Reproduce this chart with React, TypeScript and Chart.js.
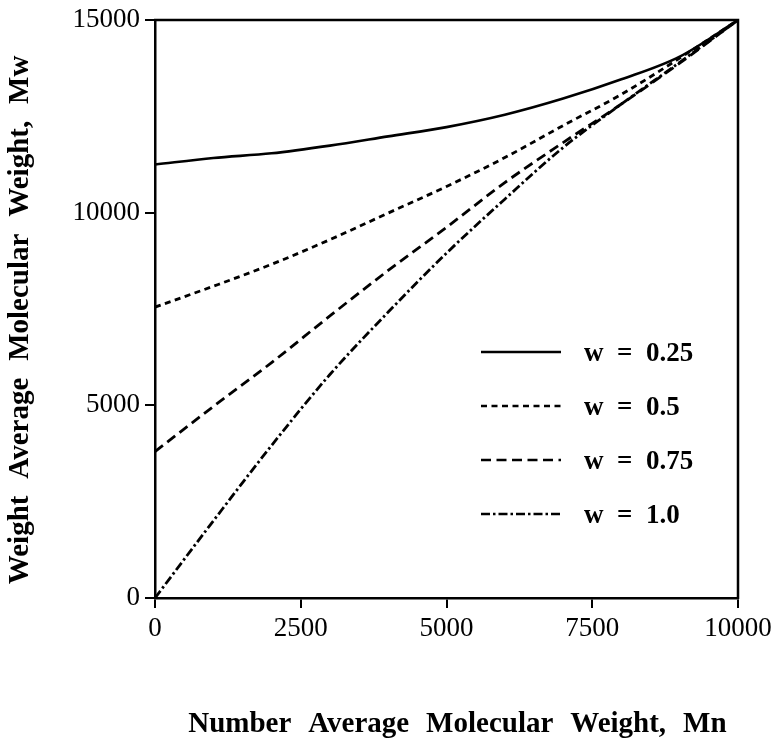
import React, { useEffect, useRef } from "react";
import { Chart, registerables } from "chart.js";

Chart.register(...registerables);

// Number average molecular weight, Mn (x)
const mnValues = [0, 1000, 2000, 3000, 4000, 5000, 6000, 7000, 8000, 9000, 10000];
// Weight average molecular weight, Mw (y) for each w
const mwW025 = [11250, 11420, 11540, 11740, 11980, 12220, 12540, 12960, 13460, 14050, 15000];
const mwW05 = [7550, 8090, 8660, 9300, 9990, 10680, 11430, 12260, 13070, 14010, 15000];
const mwW075 = [3800, 4970, 6110, 7320, 8500, 9620, 10780, 11820, 12820, 13880, 15000];
const mwW10 = [0, 2000, 3960, 5800, 7420, 8950, 10350, 11690, 12820, 13900, 15000];

const seriesLabels = ["w  =  0.25", "w  =  0.5", "w  =  0.75", "w  =  1.0"];
const xTicks = [0, 2500, 5000, 7500, 10000];
const yTicks = [0, 5000, 10000, 15000];

const xTitle = "   Number \u2004Average \u2004Molecular \u2004Weight, \u2004Mn";
const yTitle = "Weight \u2004Average \u2004Molecular \u2004Weight, \u2004Mw   ";

const SERIF = '"Liberation Serif", "Times New Roman", Times, serif';

const dashes: number[][] = [[], [6, 4.5], [10, 5.5], [9, 3, 2.5, 3]];

const framePlugin = {
  id: "frame",
  afterDatasetsDraw(chart: any) {
    const { ctx, chartArea } = chart;
    const { left, right, top, bottom } = chartArea;
    ctx.save();
    ctx.strokeStyle = "#000";
    ctx.lineWidth = 2.5;
    ctx.setLineDash([]);
    ctx.beginPath();
    ctx.moveTo(left - 1, top);
    ctx.lineTo(right, top);
    ctx.lineTo(right, bottom + 1);
    ctx.stroke();
    ctx.restore();
  },
};

const legendPlugin = {
  id: "innerLegend",
  afterDraw(chart: any) {
    const { ctx, chartArea } = chart;
    const x0 = chartArea.left + 326;
    const x1 = chartArea.left + 406;
    const tx = chartArea.left + 429;
    const y0 = chartArea.top + 332;
    const step = 54;
    ctx.save();
    chart.data.datasets.forEach((ds: any, i: number) => {
      const y = y0 + i * step;
      ctx.strokeStyle = "#000";
      ctx.lineWidth = 2.5;
      ctx.setLineDash(ds.borderDash || []);
      ctx.beginPath();
      ctx.moveTo(x0, y);
      ctx.lineTo(x1, y);
      ctx.stroke();
      ctx.setLineDash([]);
      ctx.fillStyle = "#000";
      ctx.font = `bold 27px ${SERIF}`;
      ctx.textAlign = "left";
      ctx.textBaseline = "middle";
      ctx.fillText(ds.label, tx, y + 2);
    });
    ctx.restore();
  },
};

const plainNumber = (v: any) => String(v);

export default function App() {
  const canvasRef = useRef<HTMLCanvasElement | null>(null);

  useEffect(() => {
    document.body.style.margin = "0";
    const canvas = canvasRef.current;
    if (!canvas) return;
    const seriesValues = [mwW025, mwW05, mwW075, mwW10];
    const chart = new Chart(canvas, {
      type: "line",
      data: {
        datasets: seriesValues.map((vals, i) => ({
          label: seriesLabels[i],
          data: mnValues.map((x, j) => ({ x, y: vals[j] })),
          borderColor: "#000",
          backgroundColor: "#000",
          borderWidth: i === 0 ? 2.6 : 2.8,
          borderDash: dashes[i],
          pointRadius: 0,
          cubicInterpolationMode: "monotone",
          fill: false,
        })),
      },
      options: {
        animation: false,
        responsive: false,
        devicePixelRatio: 1,
        layout: { padding: { left: 0, top: 20, right: 34, bottom: 0 } },
        plugins: {
          legend: { display: false },
          tooltip: { enabled: false },
        },
        scales: {
          x: {
            type: "linear",
            min: 0,
            max: 10000,
            afterFit: (scale: any) => {
              scale.height = 146;
              scale.paddingLeft = 0;
              scale.paddingRight = 0;
            },
            afterBuildTicks: (scale: any) => {
              scale.ticks = xTicks.map((v) => ({ value: v }));
            },
            border: { display: true, color: "#000", width: 2.5 },
            grid: {
              drawOnChartArea: false,
              drawTicks: true,
              tickLength: 10,
              color: "#000",
              lineWidth: 2,
            },
            ticks: {
              color: "#000",
              font: { family: SERIF, size: 27 },
              padding: 5,
              maxRotation: 0,
              autoSkip: false,
              callback: plainNumber,
            },
            title: {
              display: true,
              text: xTitle,
              color: "#000",
              font: { family: SERIF, size: 29, weight: "bold" },
              padding: { top: 0, bottom: 2 },
            },
          },
          y: {
            type: "linear",
            min: 0,
            max: 15000,
            afterFit: (scale: any) => {
              scale.width = 155;
              scale.paddingTop = 0;
              scale.paddingBottom = 0;
            },
            afterBuildTicks: (scale: any) => {
              scale.ticks = yTicks.map((v) => ({ value: v }));
            },
            border: { display: true, color: "#000", width: 2.5 },
            grid: {
              drawOnChartArea: false,
              drawTicks: true,
              tickLength: 10,
              color: "#000",
              lineWidth: 2,
            },
            ticks: {
              color: "#000",
              font: { family: SERIF, size: 27 },
              padding: 5,
              autoSkip: false,
              callback: plainNumber,
            },
            title: {
              display: true,
              text: yTitle,
              color: "#000",
              font: { family: SERIF, size: 29, weight: "bold" },
              padding: { top: 3, bottom: 0 },
            },
          },
        },
      },
      plugins: [framePlugin, legendPlugin],
    });
    return () => chart.destroy();
  }, []);

  return (
    <div style={{ width: 772, height: 744, background: "#fff" }}>
      <canvas ref={canvasRef} width={772} height={744} style={{ display: "block" }} />
    </div>
  );
}
